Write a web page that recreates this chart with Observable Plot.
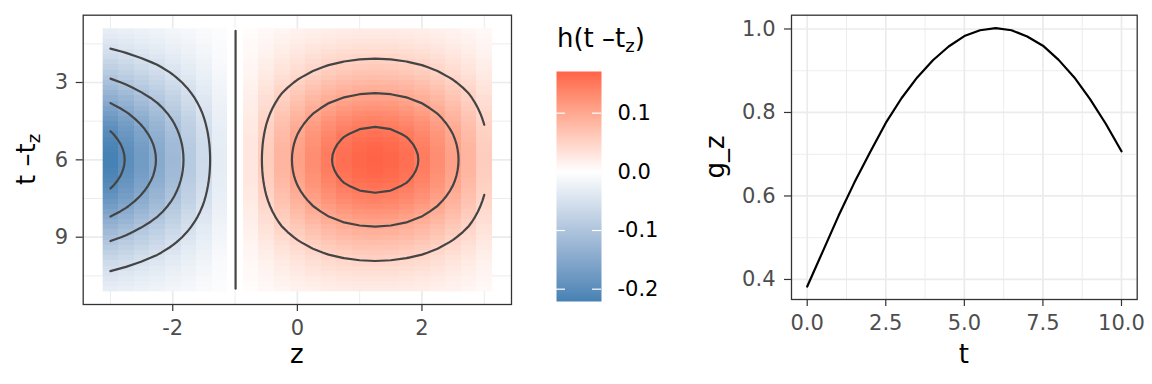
<!DOCTYPE html>
<html><head><meta charset="utf-8">
<script src="https://cdn.jsdelivr.net/npm/d3@7"></script>
<script src="https://cdn.jsdelivr.net/npm/@observablehq/plot@0.6"></script>
<style>
body{margin:0;background:#fff;font-family:"DejaVu Sans",sans-serif;}
#fig{position:relative;width:1152px;height:384px;overflow:hidden;background:#fff;}
#fig > svg{position:absolute;top:0;}
</style></head><body><div id="fig"></div>
<script>
// ---- data ----
// z grid (columns of the heat map)
const zValues = [-3,-2.75,-2.5,-2.25,-2,-1.75,-1.5,-1.25,-1,-0.75,-0.5,-0.25,0,0.25,0.5,0.75,1,1.25,1.5,1.75,2,2.25,2.5,2.75,3];
// h along z at t - t_z = 6
const zProfile = [-0.221,-0.198,-0.173,-0.148,-0.120,-0.091,-0.062,-0.032,-0.001,0.029,0.058,0.085,0.108,0.129,0.147,0.160,0.168,0.171,0.168,0.160,0.147,0.129,0.108,0.085,0.058];
// t - t_z grid (rows of the heat map)
const tValues = [1,1.2,1.4,1.6,1.8,2,2.2,2.4,2.6,2.8,3,3.2,3.4,3.6,3.8,4,4.2,4.4,4.6,4.8,5,5.2,5.4,5.6,5.8,6,6.2,6.4,6.6,6.8,7,7.2,7.4,7.6,7.8,8,8.2,8.4,8.6,8.8,9,9.2,9.4,9.6,9.8,10,10.2,10.4,10.6,10.8,11];
// relative size of h along t - t_z
const tProfile = [0.135,0.158,0.184,0.213,0.244,0.278,0.315,0.355,0.397,0.441,0.487,0.534,0.582,0.631,0.679,0.726,0.772,0.815,0.855,0.891,0.923,0.950,0.972,0.987,0.997,1.000,0.997,0.987,0.972,0.950,0.923,0.891,0.855,0.815,0.772,0.726,0.679,0.631,0.582,0.534,0.487,0.441,0.397,0.355,0.315,0.278,0.244,0.213,0.184,0.158,0.135];
const contourLevels = [-0.2,-0.15,-0.1,-0.05,0,0.05,0.1,0.15];
const legendTicks = [0.1,0,-0.1,-0.2];
// right panel
const gzT = [0,0.5,1,1.5,2,2.5,3,3.5,4,4.5,5,5.5,6,6.5,7,7.5,8,8.5,9,9.5,10];
const gzValues = [0.383,0.468,0.553,0.632,0.705,0.775,0.834,0.884,0.925,0.958,0.983,0.997,1.002,0.997,0.982,0.960,0.926,0.884,0.832,0.773,0.707];

// ---- tables built from the arrays ----
const nz = zValues.length, nt = tValues.length;
const hGrid = [];
for (let j = 0; j < nt; j++) for (let i = 0; i < nz; i++) hGrid.push(zProfile[i] * tProfile[j]);
const dz = zValues[1]-zValues[0], dt = tValues[1]-tValues[0];
const ext = {x1: zValues[0]-dz/2, x2: zValues[nz-1]+dz/2, y1: tValues[0]-dt/2, y2: tValues[nt-1]+dt/2};
const [hMin, hMax] = d3.extent(hGrid);
const gz = gzT.map((t,i)=>({t, g: gzValues[i]}));

// contour lines (isolines) from d3.contours, dropping every piece that touches the padded grid border
const onB = p => p[0] <= 0 || p[0] >= nz || p[1] <= 0 || p[1] >= nt;
const contourPts = [];
{
  let id = 0;
  for (const c of d3.contours().size([nz, nt]).thresholds(contourLevels)(hGrid)) {
    for (const poly of c.coordinates) for (const ring of poly) {
      let cur = null;
      for (let k = 0; k < ring.length - 1; k++) {
        const a = ring[k], b = ring[k+1];
        if (onB(a) || onB(b)) { cur = null; continue; }
        if (cur === null) { cur = id++; contourPts.push({id: cur, z: zValues[0] + (a[0]-0.5)*dz, t: tValues[0] + (a[1]-0.5)*dt}); }
        contourPts.push({id: cur, z: zValues[0] + (b[0]-0.5)*dz, t: tValues[0] + (b[1]-0.5)*dt});
      }
    }
  }
}

const colorOpts = {type:"diverging", pivot:0, symmetric:false, domain:[hMin,hMax], range:["steelblue","white","tomato"], interpolate:"lab"};
const FONT = "DejaVu Sans";
const styleBase = {fontFamily: FONT, fontSize: "21px", background: "transparent", overflow: "visible"};
const GRID = "#ebebeb";
const fig = document.getElementById("fig");

// ---- left panel ----
const xr = (ext.x2-ext.x1)*0.05, yr = (ext.y2-ext.y1)*0.05;
const left = Plot.plot({
  width: 520, height: 384,
  marginLeft: 82.7, marginRight: 9, marginTop: 14.7, marginBottom: 80,
  style: styleBase,
  x: {domain: [ext.x1-xr, ext.x2+xr], label: null},
  y: {domain: [ext.y1-yr, ext.y2+yr], reverse: true, label: null},
  color: colorOpts,
  marks: [
    Plot.gridX([-3,-1,1,3], {stroke: GRID, strokeOpacity: 1, strokeWidth: 0.9}),
    Plot.gridX([-2,0,2], {stroke: GRID, strokeOpacity: 1, strokeWidth: 1.7}),
    Plot.gridY([1.5,4.5,7.5,10.5], {stroke: GRID, strokeOpacity: 1, strokeWidth: 0.9}),
    Plot.gridY([3,6,9], {stroke: GRID, strokeOpacity: 1, strokeWidth: 1.7}),
    Plot.raster(hGrid, {width: nz, height: nt, ...ext, imageRendering: "pixelated"}),
    Plot.line(contourPts, {x: "z", y: "t", z: "id", stroke: "#444444", strokeWidth: 2.2, curve: "linear", strokeLinejoin: "round"}),
    Plot.frame({stroke: "#333333", strokeWidth: 1.3}),
    Plot.axisX([-2,0,2], {tickSize: 7, tickPadding: 9, tickFormat: d => String(d), stroke: "#333333", strokeWidth: 1.2, fill: "#4d4d4d", label: null}),
    Plot.axisY([3,6,9], {tickSize: 7, tickPadding: 8, tickFormat: d => String(d), stroke: "#333333", strokeWidth: 1.2, fill: "#4d4d4d", label: null})
  ]
});
left.style.left = "0px";
fig.appendChild(left);
{
  const sv = d3.select(left);
  sv.append("text").attr("x", 296.85).attr("y", 363).attr("text-anchor","middle")
    .attr("font-family", FONT).attr("font-size", 26).attr("fill","black").text("z");
  const yt = sv.append("text").attr("transform","translate(35,159.4) rotate(-90)").attr("text-anchor","middle")
    .attr("font-family", FONT).attr("font-size", 26).attr("fill","black");
  yt.append("tspan").text("t \u2013t");
  yt.append("tspan").attr("font-size", 18).attr("dy", 5).text("z");
}

// ---- legend ----
const legend = Plot.plot({
  width: 160, height: 384,
  marginLeft: 26, marginRight: 89, marginTop: 71, marginBottom: 83,
  style: styleBase,
  x: {domain: [0,1], axis: null},
  y: {domain: [hMin, hMax], axis: null},
  color: colorOpts,
  marks: [
    Plot.raster({fill: (x, y) => y, x1: 0, x2: 1, y1: hMin, y2: hMax, pixelSize: 1}),
    Plot.ruleY(legendTicks, {y: d => d, x1: () => 0, x2: () => 0.2, stroke: "white", strokeWidth: 1.2}),
    Plot.ruleY(legendTicks, {y: d => d, x1: () => 0.8, x2: () => 1, stroke: "white", strokeWidth: 1.2}),
    Plot.text(legendTicks, {x: () => 1, y: d => d, text: d => d.toFixed(1), textAnchor: "start", dx: 16, fill: "black", fontSize: 21})
  ]
});
legend.style.left = "530px";
fig.appendChild(legend);
{
  const lt = d3.select(legend).append("text").attr("x", 27).attr("y", 46.7).attr("text-anchor","start")
    .attr("font-family", FONT).attr("font-size", 26).attr("fill","black");
  lt.append("tspan").text("h(t \u2013t");
  lt.append("tspan").attr("font-size", 18).attr("dy", 5).text("z");
  lt.append("tspan").attr("dy", -5).text(")");
}

// ---- right panel ----
const right = Plot.plot({
  width: 462, height: 384,
  marginLeft: 101, marginRight: 15.3, marginTop: 14.7, marginBottom: 85,
  style: styleBase,
  x: {domain: [-0.5, 10.5], label: null},
  y: {domain: [0.352, 1.033], label: null},
  marks: [
    Plot.gridX([1.25,3.75,6.25,8.75], {stroke: GRID, strokeOpacity: 1, strokeWidth: 0.9}),
    Plot.gridX([0,2.5,5,7.5,10], {stroke: GRID, strokeOpacity: 1, strokeWidth: 1.7}),
    Plot.gridY([0.5,0.7,0.9], {stroke: GRID, strokeOpacity: 1, strokeWidth: 0.9}),
    Plot.gridY([0.4,0.6,0.8,1.0], {stroke: GRID, strokeOpacity: 1, strokeWidth: 1.7}),
    Plot.line(gz, {x: "t", y: "g", stroke: "black", strokeWidth: 2.2, curve: "linear"}),
    Plot.frame({stroke: "#333333", strokeWidth: 1.3}),
    Plot.axisX([0,2.5,5,7.5,10], {tickSize: 7, tickPadding: 9, tickFormat: d => d.toFixed(1), stroke: "#333333", strokeWidth: 1.2, fill: "#4d4d4d", label: null}),
    Plot.axisY([0.4,0.6,0.8,1.0], {tickSize: 7, tickPadding: 9, tickFormat: d => d.toFixed(1), stroke: "#333333", strokeWidth: 1.2, fill: "#4d4d4d", label: null})
  ]
});
right.style.left = "690px";
fig.appendChild(right);
{
  const sv = d3.select(right);
  sv.append("text").attr("x", 273.9).attr("y", 363).attr("text-anchor","middle")
    .attr("font-family", FONT).attr("font-size", 26).attr("fill","black").text("t");
  sv.append("text").attr("transform","translate(34,156.9) rotate(-90)").attr("text-anchor","middle")
    .attr("font-family", FONT).attr("font-size", 26).attr("fill","black").text("g_z");
}
</script></body></html>
